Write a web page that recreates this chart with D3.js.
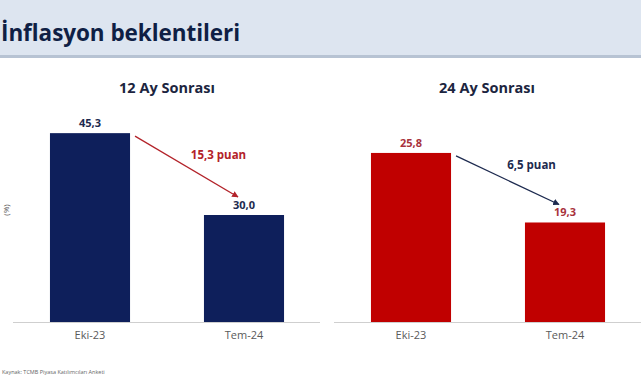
<!DOCTYPE html>
<html>
<head>
<meta charset="utf-8">
<script src="https://cdn.jsdelivr.net/npm/d3@7"></script>
<style>
  body { margin: 0; background: #fff; overflow: hidden; }
  svg { display: block; font-family: "Open Sans", sans-serif; }
</style>
</head>
<body>
<svg id="chart"></svg>
<script>
const W = 641, H = 380;
const periods = ["Eki-23", "Tem-24"];
const values12 = [45.3, 30.0];
const values24 = [25.8, 19.3];
const diffLabels = ["15,3 puan", "6,5 puan"];
const panelTitles = ["12 Ay Sonrası", "24 Ay Sonrası"];

const navy = "#0e1f5b";
const red = "#c00000";

const svg = d3.select("#chart").attr("width", W).attr("height", H);

// header band
svg.append("rect").attr("x", 0).attr("y", 0).attr("width", W).attr("height", 57)
  .attr("fill", "#dde5f0");
svg.append("rect").attr("x", 0).attr("y", 55).attr("width", W).attr("height", 3)
  .attr("fill", "#b7c3d3");
svg.append("text").attr("x", 1).attr("y", 41)
  .attr("font-size", 22.5).attr("font-weight", 700).attr("fill", "#0f1f45")
  .attr("textLength", 239)
  .text("İnflasyon beklentileri");

const plotTop = 108, plotBottom = 322;

const panels = [
  { title: panelTitles[0], vals: values12, range: [13, 321], max: 50, color: navy,
    labelColor: "#1d2a4f", diff: diffLabels[0], diffColor: "#b3232a", titleX: 167,
    dx: 32, dy: -8 },
  { title: panelTitles[1], vals: values24, range: [334, 642], max: 30, color: red,
    labelColor: "#a8323c", diff: diffLabels[1], diffColor: "#1d2a4f", titleX: 487,
    dx: 24, dy: -11 }
];

svg.append("defs").selectAll("marker").data(panels).enter().append("marker")
  .attr("id", (d, i) => "arr" + i)
  .attr("viewBox", "0 0 10 10").attr("refX", 9).attr("refY", 5)
  .attr("markerWidth", 5).attr("markerHeight", 5).attr("orient", "auto")
  .append("path").attr("d", "M0,0L10,5L0,10z").attr("fill", d => d.diffColor);

panels.forEach((p, i) => {
  const x = d3.scaleBand().domain(periods).range(p.range)
    .paddingInner(0.48).paddingOuter(0.24);
  const y = d3.scaleLinear().domain([10, p.max]).range([plotBottom, plotTop]);
  const g = svg.append("g");

  g.append("text").attr("x", p.titleX).attr("y", 93).attr("text-anchor", "middle")
    .attr("font-size", 14.5).attr("font-weight", 700).attr("fill", "#1c2540")
    .text(p.title);

  g.selectAll("rect.bar").data(p.vals).enter().append("rect")
    .attr("class", "bar")
    .attr("x", (d, j) => x(periods[j]))
    .attr("y", d => y(d))
    .attr("width", x.bandwidth())
    .attr("height", d => plotBottom - y(d))
    .attr("fill", p.color);

  g.append("line").attr("x1", p.range[0]).attr("x2", p.range[1] - 1)
    .attr("y1", plotBottom + 0.5).attr("y2", plotBottom + 0.5)
    .attr("stroke", "#cfcfcf").attr("stroke-width", 1);

  g.selectAll("text.val").data(p.vals).enter().append("text")
    .attr("class", "val")
    .attr("x", (d, j) => x(periods[j]) + x.bandwidth() / 2)
    .attr("y", d => y(d) - 6)
    .attr("text-anchor", "middle")
    .attr("font-size", 11).attr("font-weight", 700)
    .attr("fill", p.labelColor)
    .text(d => d3.format(".1f")(d).replace(".", ","));

  const xAxis = d3.axisBottom(x).tickSize(0).tickPadding(9);
  const ax = g.append("g").attr("transform", `translate(0,${plotBottom})`).call(xAxis);
  ax.select(".domain").remove();
  ax.selectAll("text").attr("font-size", 11).attr("fill", "#5a5a5a")
    .attr("font-family", "Open Sans, sans-serif");

  // change arrow
  const x1 = x(periods[0]) + x.bandwidth() + 5;
  const y1 = y(p.vals[0]) + 3;
  const x2 = x(periods[1]) + x.bandwidth() / 2 - 6;
  const y2 = y(p.vals[1]) - 18;
  g.append("line").attr("x1", x1).attr("y1", y1).attr("x2", x2).attr("y2", y2)
    .attr("stroke", p.diffColor).attr("stroke-width", 1.3)
    .attr("marker-end", `url(#arr${i})`);
  g.append("text")
    .attr("x", (x1 + x2) / 2 + p.dx).attr("y", (y1 + y2) / 2 + p.dy)
    .attr("text-anchor", "middle").attr("font-size", 11.5).attr("font-weight", 700)
    .attr("fill", p.diffColor).text(p.diff);
});

// y-axis unit
svg.append("text").attr("transform", "translate(9,210) rotate(-90)")
  .attr("text-anchor", "middle").attr("font-size", 8).attr("fill", "#555").text("(%)");

svg.append("text").attr("x", 2).attr("y", 374)
  .attr("font-size", 5.5).attr("fill", "#666")
  .text("Kaynak: TCMB Piyasa Katılımcıları Anketi");
</script>
</body>
</html>
